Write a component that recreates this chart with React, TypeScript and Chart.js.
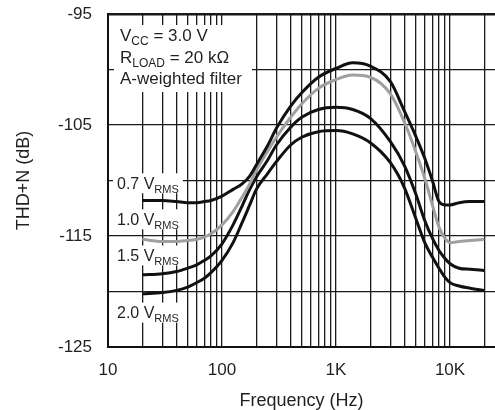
import React, { useEffect, useRef } from 'react';
import { Chart, registerables } from 'chart.js';

Chart.register(...registerables);

const FONT = '"Liberation Sans", Arial, Helvetica, sans-serif';

// Frequency points (Hz)
const FREQ = [20, 30, 40, 50, 60, 70, 80, 100, 125, 150, 175, 200, 250, 300, 400, 500, 700, 1000, 1400, 2000, 3000, 4000, 5000, 6000, 7000, 8000, 9000, 10000, 12000, 15000, 20000];

// THD+N (dB) per output level
const THD_07 = [-111.8, -111.8, -111.9, -112.0, -112.0, -111.9, -111.8, -111.4, -110.8, -110.3, -109.6, -108.6, -106.9, -105.3, -103.3, -102.1, -100.7, -99.9, -99.4, -99.7, -101.1, -103.8, -106.0, -108.0, -110.0, -111.9, -112.2, -112.2, -112.0, -111.9, -111.9];
const THD_10 = [-115.3, -115.5, -115.5, -115.4, -115.3, -115.1, -114.8, -114.0, -112.8, -111.5, -110.3, -109.1, -107.4, -106.1, -104.3, -103.1, -101.7, -100.9, -100.5, -100.7, -102.2, -104.8, -107.4, -109.8, -112.2, -114.2, -115.2, -115.6, -115.5, -115.4, -115.3];
const THD_15 = [-118.5, -118.4, -118.2, -117.9, -117.6, -117.2, -116.8, -115.7, -114.0, -112.3, -110.8, -109.7, -108.2, -106.8, -105.2, -104.3, -103.6, -103.4, -103.6, -104.4, -106.5, -108.7, -111.2, -113.6, -115.2, -116.3, -117.0, -117.5, -117.9, -118.0, -118.1];
const THD_20 = [-120.2, -120.1, -119.9, -119.6, -119.2, -118.8, -118.3, -117.2, -115.6, -113.8, -112.2, -110.8, -109.4, -108.3, -106.8, -106.1, -105.6, -105.5, -105.8, -106.6, -108.4, -110.7, -113.4, -115.6, -116.9, -117.9, -118.7, -119.2, -119.5, -119.7, -119.9];

// Grid / tick positions
const GRID_FREQS = [10, 20, 30, 40, 50, 60, 70, 80, 90, 100, 200, 300, 400, 500, 600, 700, 800, 900, 1000, 2000, 3000, 4000, 5000, 6000, 7000, 8000, 9000, 10000, 20000];
const X_TICK_TEXT: Record<number, string> = { 10: '10', 100: '100', 1000: '1K', 10000: '10K' };
const Y_LABELED = [-95, -105, -115, -125];

// Series labels: main text, subscript, dB position
const SERIES_LABELS: { main: string; sub: string; db: number }[] = [
  { main: '0.7 V', sub: 'RMS', db: -110.25 },
  { main: '1.0 V', sub: 'RMS', db: -113.5 },
  { main: '1.5 V', sub: 'RMS', db: -116.75 },
  { main: '2.0 V', sub: 'RMS', db: -121.9 },
];

const NOTE_LINES: { t: string; sub?: boolean }[][] = [
  [{ t: 'V' }, { t: 'CC', sub: true }, { t: ' = 3.0 V' }],
  [{ t: 'R' }, { t: 'LOAD', sub: true }, { t: ' = 20 k\u03A9' }],
  [{ t: 'A-weighted filter' }],
];

const TEXT_COLOR = '#231f20';
const GRID_COLOR = '#1a1a1a';

function drawRich(ctx: CanvasRenderingContext2D, x: number, yMid: number, parts: { t: string; sub?: boolean }[], size: number, subSize: number) {
  let cx = x;
  ctx.textAlign = 'left';
  ctx.textBaseline = 'alphabetic';
  const base = yMid + size * 0.36;
  for (const p of parts) {
    ctx.font = `${p.sub ? subSize : size}px ${FONT}`;
    ctx.fillText(p.t, cx, p.sub ? base + size * 0.25 : base);
    cx += ctx.measureText(p.t).width;
  }
}

const labelPlugin = {
  id: 'labelBoxes',
  beforeDatasetsDraw(chart: any) {
    const { ctx, chartArea, scales } = chart;
    const y = scales.y;
    ctx.save();
    ctx.fillStyle = '#ffffff';
    ctx.fillRect(chartArea.left + 6, chartArea.top + 11, 138, 67);
    ctx.fillStyle = TEXT_COLOR;
    NOTE_LINES.forEach((line, i) => {
      drawRich(ctx, chartArea.left + 12, chartArea.top + 21 + i * 21.5, line, 17, 12);
    });
    SERIES_LABELS.forEach((l) => {
      const yc = y.getPixelForValue(l.db);
      ctx.fillStyle = '#ffffff';
      ctx.fillRect(chartArea.left + 5, yc - 10, 70, 20);
      ctx.fillStyle = TEXT_COLOR;
      drawRich(ctx, chartArea.left + 9, yc, [{ t: l.main }, { t: l.sub, sub: true }], 16, 11);
    });
    ctx.restore();
  },
};

export default function App() {
  const ref = useRef<HTMLCanvasElement | null>(null);

  useEffect(() => {
    if (!ref.current) return;
    const mk = (arr: number[]) => FREQ.map((f, i) => ({ x: f, y: arr[i] }));
    const common = { borderWidth: 3, pointRadius: 0, cubicInterpolationMode: 'monotone' as const, fill: false };
    const chart = new Chart(ref.current, {
      type: 'line',
      data: {
        datasets: [
          { label: '0.7 VRMS', data: mk(THD_07), borderColor: '#111111', ...common },
          { label: '1.0 VRMS', data: mk(THD_10), borderColor: '#a0a0a0', ...common },
          { label: '1.5 VRMS', data: mk(THD_15), borderColor: '#111111', ...common },
          { label: '2.0 VRMS', data: mk(THD_20), borderColor: '#111111', ...common },
        ],
      },
      options: {
        animation: false,
        responsive: false,
        maintainAspectRatio: false,
        layout: { padding: { top: 14, right: 0, left: 0, bottom: 0 } },
        plugins: { legend: { display: false }, tooltip: { enabled: false } },
        scales: {
          x: {
            type: 'logarithmic',
            position: 'bottom',
            min: 10,
            max: 24800,
            afterBuildTicks: (s: any) => {
              s.ticks = GRID_FREQS.map((v) => ({ value: v }));
            },
            afterFit: (s: any) => {
              s.height = 63;
              s.paddingLeft = 0;
              s.paddingRight = 0;
            },
            ticks: {
              autoSkip: false,
              maxRotation: 0,
              minRotation: 0,
              padding: 13,
              color: TEXT_COLOR,
              font: { family: FONT, size: 17 },
              callback: (v: any) => X_TICK_TEXT[Number(v)] ?? '',
            },
            grid: { color: GRID_COLOR, lineWidth: 1.3, drawTicks: false },
            border: { color: '#111111', width: 2 },
            title: {
              display: true,
              text: 'Frequency (Hz)',
              color: TEXT_COLOR,
              font: { family: FONT, size: 18, lineHeight: 1 },
              padding: { top: 0, bottom: 0 },
            },
          },
          y: {
            type: 'linear',
            min: -125,
            max: -95,
            afterFit: (s: any) => {
              s.width = 108;
              s.paddingTop = 0;
              s.paddingBottom = 0;
            },
            ticks: {
              stepSize: 5,
              padding: 16,
              color: TEXT_COLOR,
              font: { family: FONT, size: 17 },
              callback: (v: any) => (Y_LABELED.includes(Number(v)) ? String(v) : ''),
            },
            grid: {
              color: GRID_COLOR,
              lineWidth: (c: any) => (c.tick && c.tick.value === -95 ? 2.5 : 1.3),
              drawTicks: false,
            },
            border: { color: '#111111', width: 2 },
            title: {
              display: true,
              text: 'THD+N (dB)',
              color: TEXT_COLOR,
              font: { family: FONT, size: 18, lineHeight: 1 },
              padding: { top: 15, bottom: 0 },
            },
          },
        },
      },
      plugins: [labelPlugin],
    });
    return () => chart.destroy();
  }, []);

  return (
    <div style={{ position: 'absolute', left: 0, top: 0, width: 495, height: 410, background: '#fff' }}>
      <canvas ref={ref} width={495} height={410} />
    </div>
  );
}
